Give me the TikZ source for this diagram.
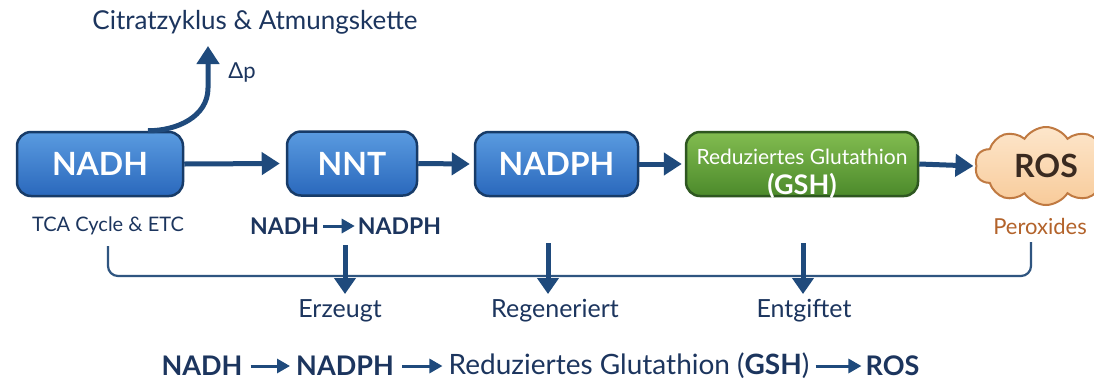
\documentclass[tikz,border=0pt]{standalone}
\usepackage{fontspec}
\setmainfont{Lato}
\usetikzlibrary{arrows.meta,shapes.symbols,calc}

\definecolor{navy}{HTML}{1C355E}
\definecolor{arrowblue}{HTML}{1F4A7C}
\definecolor{blueTop}{HTML}{5A9BE0}
\definecolor{blueMid}{HTML}{3F82D2}
\definecolor{blueBot}{HTML}{2A68BC}
\definecolor{blueEdge}{HTML}{173B68}
\definecolor{greenTop}{HTML}{82BC50}
\definecolor{greenMid}{HTML}{68A43C}
\definecolor{greenBot}{HTML}{4C8A2B}
\definecolor{greenEdge}{HTML}{2E5720}
\definecolor{cloudTop}{HTML}{FDE6CB}
\definecolor{cloudBot}{HTML}{F8CB9A}
\definecolor{cloudEdge}{HTML}{C07A42}
\definecolor{rosText}{HTML}{3A2A20}
\definecolor{peroxide}{HTML}{B3632B}
\definecolor{bracket}{HTML}{2F5580}

\newcommand{\fs}[1]{\fontsize{#1}{#1}\selectfont}

\tikzset{
  procbox/.style={rounded corners=14pt, line width=2.5pt, minimum height=64pt,
    inner sep=0pt, text=white, font=\bfseries\fs{32}},
  bluebox/.style={procbox, draw=blueEdge, top color=blueTop, middle color=blueMid,
    bottom color=blueBot},
  greenbox/.style={procbox, draw=greenEdge, top color=greenTop, middle color=greenMid,
    bottom color=greenBot},
  flow/.style={draw=arrowblue, line width=5pt, -{Triangle[length=18pt,width=22pt]}},
  smallflow/.style={draw=arrowblue, line width=3pt, -{Triangle[length=13pt,width=14pt]}},
  downflow/.style={draw=arrowblue, line width=5pt, -{Triangle[length=16pt,width=21pt]}},
  lbl/.style={text=navy, inner sep=0pt, font=\fs{#1}},
  lbl/.default=21,
  boldlbl/.style={text=navy, inner sep=0pt, font=\bfseries\fs{#1}},
  bracketline/.style={draw=bracket, line width=2.2pt, rounded corners=10pt},
}

\begin{document}
\begin{tikzpicture}[x=1pt,y=-1pt]
\useasboundingbox[fill=white] (0,0) rectangle (1094,381);

% main chain
\node[bluebox, minimum width=166pt] (nadh) at (100,164) {NADH};
\node[bluebox, minimum width=130pt] (nnt) at (352,163.5) {NNT};
\node[bluebox, minimum width=163pt] (nadph) at (556.5,164) {NADPH};
\node[greenbox, minimum width=232pt] (gsh) at (802,164) {};
\node[text=white, inner sep=0pt, align=center, font=\bfseries\fs{27}]
  (gshtext) at ([yshift=-10pt]gsh.center)
  {{\mdseries\fontsize{21}{27}\selectfont Reduziertes Glutathion}\\[3pt](GSH)};
\node[cloud, cloud puffs=10, cloud puff arc=115, aspect=1.6,
  draw=cloudEdge, line width=2pt, top color=cloudTop, bottom color=cloudBot,
  minimum width=142pt, minimum height=78pt, inner sep=0pt,
  text=rosText, font=\bfseries\fs{32}] (ros) at (1046,166) {ROS};

\draw[flow] (nadh.east) -- ([xshift=-6pt]nnt.west);
\draw[flow] (nnt.east) -- ([xshift=-4pt]nadph.west);
\draw[flow] (nadph.east) -- ([xshift=-3pt]gsh.west);
\draw[flow] (gsh.east) -- ([xshift=-2pt]ros.west);

% link to respiration
\node[lbl=26] (cit) at (255,22) {Citratzyklus \& Atmungskette};
\node[lbl=22] (dp) at (242,73) {Δp};
\coordinate (bend) at (208,88);
\coordinate (dptip) at (208,46);
\draw[flow] ([xshift=48pt]nadh.north) to[out=0,in=-90] (bend) -- (dptip);

% labels under the chain
\node[lbl=20] (tca) at (108,226) {TCA Cycle \& ETC};
\node[boldlbl=23] (s1) at (284.5,226) {NADH};
\node[boldlbl=23] (s2) at (399.5,226) {NADPH};
\draw[smallflow] ([xshift=4pt]s1.east) -- ([xshift=-3pt]s2.west);
\node[lbl=22, text=peroxide] (perox) at (1040,226) {Peroxides};

% bracket collecting the roles
\coordinate (bl) at (108,246);
\coordinate (br) at (1031,242);
\draw[bracketline] (bl) -- (108,276) -- (1031,276) -- (br);

\coordinate (d1) at (345,245);
\coordinate (d2) at (548,243);
\coordinate (d3) at (803,243);
\coordinate (e1) at (345,294);
\coordinate (e2) at (548,294);
\coordinate (e3) at (803,294);
\node[lbl=25] (erz) at (340,311) {Erzeugt};
\node[lbl=25] (reg) at (555,311) {Regeneriert};
\node[lbl=25] (ent) at (804,311) {Entgiftet};
\draw[downflow] (d1) -- (e1);
\draw[downflow] (d2) -- (e2);
\draw[downflow] (d3) -- (e3);

% summary line
\node[boldlbl=27] (b1) at (202,366) {NADH};
\node[boldlbl=27] (b2) at (345,366) {NADPH};
\node[lbl=28] (b3) at (629,366) {Reduziertes Glutathion (\textbf{GSH})};
\node[boldlbl=27] (b4) at (892.5,366) {ROS};
\draw[smallflow] ([xshift=8pt]b1.east) -- ([xshift=-6pt]b2.west);
\draw[smallflow] ([xshift=8pt]b2.east) -- ([xshift=-6pt]b3.west);
\draw[smallflow] ([xshift=6pt]b3.east) -- ([xshift=-4pt]b4.west);
\end{tikzpicture}
\end{document}
